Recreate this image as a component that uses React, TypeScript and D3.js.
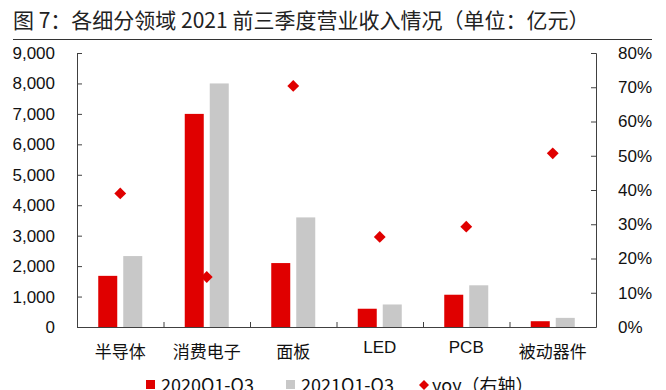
import { useEffect, useRef } from 'react';
import * as d3 from 'd3';

// ── data ──
const categories = ['半导体', '消费电子', '面板', 'LED', 'PCB', '被动器件'];
const rev2020 = [1680, 7000, 2100, 600, 1060, 190];
const rev2021 = [2330, 8000, 3600, 740, 1370, 300];
const yoy = [0.39, 0.146, 0.704, 0.263, 0.293, 0.507];
const seriesNames = ['2020Q1-Q3', '2021Q1-Q3', 'yoy（右轴）'];
const leftTicks = [0, 1000, 2000, 3000, 4000, 5000, 6000, 7000, 8000, 9000];
const rightTicks = [0, 0.1, 0.2, 0.3, 0.4, 0.5, 0.6, 0.7, 0.8];
const title = '图 7：各细分领域 2021 前三季度营业收入情况（单位：亿元）';

const C = {
  red: '#e00000',
  grey: '#c8c8c8',
  axis: '#404040',
  text: '#111111',
  title: '#222222',
};
const latin = "'Liberation Sans', Arial, sans-serif";
const cjk = "'Noto Sans CJK SC', 'Liberation Sans', sans-serif";

export default function App() {
  const svgRef = useRef<SVGSVGElement>(null);

  useEffect(() => {
    document.body.style.margin = '0';
    const svg = d3.select(svgRef.current);
    svg.selectAll('*').remove();

    const W = 666, H = 390;
    const m = { top: 53, right: 70, bottom: 63, left: 77 };
    const iW = W - m.left - m.right;
    const iH = H - m.top - m.bottom;

    svg.attr('width', W).attr('height', H);

    // title + rule
    svg.append('text').attr('x', 13).attr('y', 28)
      .attr('font-family', cjk).attr('font-size', '21px').attr('fill', C.title)
      .text(title);
    svg.append('line').attr('x1', 13).attr('x2', 652).attr('y1', 39.5).attr('y2', 39.5)
      .attr('stroke', '#333').attr('stroke-width', 1.2);

    const g = svg.append('g').attr('transform', `translate(${m.left},${m.top})`);

    const x0 = d3.scaleBand<string>().domain(categories).range([0, iW]);
    const bw = x0.bandwidth();
    const x1 = d3.scaleBand<string>().domain(['a', 'b'])
      .range([(bw - 44) / 2, (bw + 44) / 2]).paddingInner(0.24);
    const yL = d3.scaleLinear().domain([0, 9000]).range([iH, 0]);
    const yR = d3.scaleLinear().domain([0, 0.8]).range([iH, 0]);

    // bars
    const grp = g.selectAll('.grp').data(categories).join('g')
      .attr('transform', d => `translate(${x0(d)},0)`);
    grp.append('rect')
      .attr('x', x1('a')!).attr('width', x1.bandwidth())
      .attr('y', (_, i) => yL(rev2020[i])).attr('height', (_, i) => iH - yL(rev2020[i]))
      .attr('fill', C.red);
    grp.append('rect')
      .attr('x', x1('b')!).attr('width', x1.bandwidth())
      .attr('y', (_, i) => yL(rev2021[i])).attr('height', (_, i) => iH - yL(rev2021[i]))
      .attr('fill', C.grey);

    // yoy diamonds
    const diamond = d3.symbol().type(d3.symbolSquare).size(70);
    g.selectAll('.pt').data(yoy).join('path').attr('class', 'pt')
      .attr('d', diamond)
      .attr('transform', (d, i) => `translate(${x0(categories[i])! + bw / 2},${yR(d)}) rotate(45)`)
      .attr('fill', C.red);

    const styleAx = (ax: any) => {
      ax.select('.domain').attr('stroke', C.axis);
      ax.selectAll('line').attr('stroke', C.axis);
      ax.selectAll('text').attr('fill', C.text).attr('font-family', latin).attr('font-size', '17px');
    };

    // left axis (ticks inward)
    g.append('g')
      .call(d3.axisLeft(yL).tickValues(leftTicks).tickSize(-5).tickSizeOuter(-5).tickPadding(22)
        .tickFormat(d3.format(',')))
      .call(styleAx);

    // right axis (ticks inward)
    g.append('g').attr('transform', `translate(${iW},0)`)
      .call(d3.axisRight(yR).tickValues(rightTicks).tickSize(-5).tickSizeOuter(-5).tickPadding(22)
        .tickFormat(d3.format('.0%')))
      .call(styleAx);

    // bottom axis with boundary ticks pointing up
    g.append('line').attr('x1', 0).attr('x2', iW).attr('y1', iH + 0.5).attr('y2', iH + 0.5)
      .attr('stroke', C.axis);
    const bounds = categories.slice(1).map(c => x0(c)!);
    g.selectAll('.bt').data(bounds).join('line').attr('class', 'bt')
      .attr('x1', d => d + 0.5).attr('x2', d => d + 0.5)
      .attr('y1', iH - 5).attr('y2', iH)
      .attr('stroke', C.axis);

    // category labels
    g.selectAll('.cl').data(categories).join('text').attr('class', 'cl')
      .attr('x', d => x0(d)! + bw / 2)
      .attr('y', d => /^[A-Za-z]+$/.test(d) ? iH + 26 : iH + 31)
      .attr('text-anchor', 'middle')
      .attr('font-family', d => /^[A-Za-z]+$/.test(d) ? latin : cjk)
      .attr('font-size', '17px').attr('fill', C.text)
      .text(d => d);

    // legend (cut at the bottom edge, as in the reference)
    const lg = svg.append('g').attr('font-family', cjk).attr('font-size', '18px').attr('fill', C.text);
    const lx = [146, 286, 419];
    lg.append('rect').attr('x', lx[0]).attr('y', 380).attr('width', 9).attr('height', 9).attr('fill', C.red);
    lg.append('rect').attr('x', lx[1]).attr('y', 380).attr('width', 9).attr('height', 9).attr('fill', C.grey);
    lg.append('path').attr('d', d3.symbol().type(d3.symbolSquare).size(50)())
      .attr('transform', `translate(${lx[2] + 5},385) rotate(45)`).attr('fill', C.red);
    lg.selectAll('.lt').data(seriesNames).join('text').attr('class', 'lt')
      .attr('x', (_, i) => lx[i] + (i === 2 ? 13 : 15)).attr('y', 392)
      .text(d => d);
  }, []);

  return <svg ref={svgRef} style={{ display: 'block' }} />;
}
